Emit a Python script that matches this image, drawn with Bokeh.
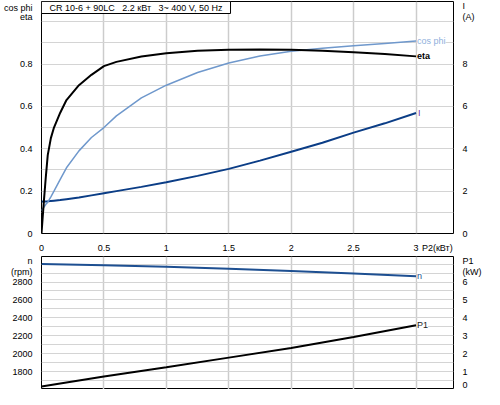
from bokeh.plotting import figure
from bokeh.models import Range1d, LinearAxis, FixedTicker, Label
from bokeh.layouts import column
from bokeh.embed import file_html
from bokeh.resources import INLINE

# ---------------- data ----------------
GAP = "\u00a0\u00a0\u00a0"
title_text = "CR 10-6 + 90LC" + GAP + "2.2 кВт" + GAP + "3~ 400 V, 50 Hz"

p2_top = [0, 0.01, 0.02, 0.035, 0.05, 0.075, 0.1, 0.15, 0.2, 0.3, 0.4, 0.5, 0.6, 0.8, 1.0,
          1.25, 1.5, 1.75, 2.0, 2.25, 2.5, 2.75, 3.0]
eta = [0, 0.08, 0.16, 0.27, 0.37, 0.45, 0.50, 0.57, 0.63, 0.70, 0.749, 0.79, 0.81, 0.835, 0.851,
       0.863, 0.867, 0.868, 0.867, 0.862, 0.855, 0.847, 0.836]
cos_phi = [0.108, 0.117, 0.125, 0.138, 0.148, 0.173, 0.20, 0.255, 0.31, 0.39, 0.453, 0.50, 0.555,
           0.64, 0.70, 0.76, 0.805, 0.838, 0.86, 0.874, 0.886, 0.897, 0.908]
current_a = [1.5, 1.505, 1.51, 1.515, 1.52, 1.535, 1.55, 1.58, 1.62, 1.7, 1.8, 1.9, 2.0, 2.2, 2.42,
             2.72, 3.05, 3.44, 3.86, 4.28, 4.76, 5.2, 5.69]

p2_bottom = [0, 0.5, 1, 1.5, 2, 2.5, 3]
speed_rpm = [3000, 2988, 2971, 2948, 2924, 2896, 2864]
p1_kw = [0.17, 0.72, 1.24, 1.78, 2.32, 2.93, 3.59]

x_ticks = [0, 0.5, 1, 1.5, 2, 2.5, 3]
x_labels = ["0", "0.5", "1", "1.5", "2", "2.5", "3"]
x_unit_label = "P2(кВт)"

left_top_ticks = [0, 0.2, 0.4, 0.6, 0.8]
left_top_labels = ["0", "0.2", "0.4", "0.6", "0.8"]
right_top_ticks = [0, 2, 4, 6, 8]
right_top_labels = ["0", "2", "4", "6", "8"]

left_bot_ticks = [1800, 2000, 2200, 2400, 2600, 2800]
left_bot_labels = ["1800", "2000", "2200", "2400", "2600", "2800"]
right_bot_ticks = [1, 2, 3, 4, 5, 6]
right_bot_labels = ["1", "2", "3", "4", "5", "6"]

# ---------------- styling ----------------
FONT = "Liberation Sans"
FS = "9px"
C_ETA = "#000000"
C_COS = "#6f98cc"
C_COS_LBL = "#8fb0dc"
C_I = "#0b3d86"
C_I_LBL = "#7030a0"
C_N = "#1d4f91"
C_P1 = "#000000"
GRID_H = "#d4d4d4"
GRID_V = "#cccccc"


def style_axis(ax, ticks, labels):
    ax.ticker = FixedTicker(ticks=ticks, minor_ticks=[])
    ax.major_label_overrides = {t: l for t, l in zip(ticks, labels)}
    ax.major_tick_line_color = None
    ax.minor_tick_line_color = None
    ax.axis_line_color = None
    ax.major_label_text_font = FONT
    ax.major_label_text_font_size = FS
    ax.major_label_text_color = "#000000"
    ax.major_label_standoff = 3


def style_fig(p):
    p.outline_line_color = "black"
    p.outline_line_width = 1
    p.background_fill_color = "white"
    p.border_fill_color = "white"
    p.xgrid.ticker = FixedTicker(ticks=x_ticks)
    p.xgrid.grid_line_color = GRID_V
    p.xgrid.grid_line_width = 1.5
    p.ygrid.grid_line_color = GRID_H
    p.ygrid.grid_line_width = 1


# ---------------- top chart ----------------
top = figure(width=484, height=255, x_range=Range1d(0, 3.3), y_range=Range1d(0, 1.095),
             output_backend="svg", toolbar_location=None,
             min_border_left=34, min_border_right=27, min_border_top=1, min_border_bottom=12)
style_fig(top)
top.ygrid.ticker = FixedTicker(ticks=[i / 10 for i in range(1, 11)])
top.extra_y_ranges = {"I": Range1d(0, 10.95)}

style_axis(top.xaxis[0], x_ticks + [3.17], x_labels + [x_unit_label])
style_axis(top.yaxis[0], left_top_ticks + [1.02, 1.065], left_top_labels + ["eta", "cos phi"])
ax_i = LinearAxis(y_range_name="I")
style_axis(ax_i, right_top_ticks + [10.23, 10.74], right_top_labels + ["(A)", "I"])
top.add_layout(ax_i, "right")

top.line(p2_top, current_a, y_range_name="I", line_color=C_I, line_width=2)
top.line(p2_top, cos_phi, line_color=C_COS, line_width=1.5)
top.line(p2_top, eta, line_color=C_ETA, line_width=2)

top.add_layout(Label(x=p2_top[-1], y=cos_phi[-1], text="cos phi", x_offset=1,
                     text_baseline="middle", text_color=C_COS_LBL, text_font=FONT,
                     text_font_size=FS, background_fill_color="white"))
top.add_layout(Label(x=p2_top[-1], y=eta[-1], text="eta", x_offset=1,
                     text_baseline="middle", text_color=C_ETA, text_font=FONT,
                     text_font_size=FS, text_font_style="bold", background_fill_color="white"))
top.add_layout(Label(x=p2_top[-1], y=current_a[-1], y_range_name="I", text="I", x_offset=2,
                     text_baseline="middle", text_color=C_I_LBL, text_font=FONT,
                     text_font_size=FS, background_fill_color="white"))
top.add_layout(Label(x=0, y=1.095, text=title_text, x_offset=0, y_offset=0,
                     text_baseline="top", text_align="left", text_color="black",
                     text_font=FONT, text_font_size="9px", background_fill_color="white",
                     border_line_color="black", border_line_width=1, padding=(8, 1)))

# ---------------- bottom chart ----------------
bot = figure(width=484, height=134, x_range=top.x_range, y_range=Range1d(1600, 3085),
             x_axis_location=None, output_backend="svg", toolbar_location=None,
             min_border_left=34, min_border_right=27, min_border_top=1, min_border_bottom=0)
style_fig(bot)
bot.ygrid.ticker = FixedTicker(ticks=[1600 + 100 * i for i in range(1, 15)])
bot.extra_y_ranges = {"P1": Range1d(0, 7.425)}

style_axis(bot.yaxis[0], left_bot_ticks + [2907, 3031], left_bot_labels + ["(rpm)", "n"])
ax_p1 = LinearAxis(y_range_name="P1")
style_axis(ax_p1, [0.25] + right_bot_ticks + [6.57, 7.16], ["0"] + right_bot_labels + ["(kW)", "P1"])
bot.add_layout(ax_p1, "right")

bot.line(p2_bottom, speed_rpm, line_color=C_N, line_width=2)
bot.line(p2_bottom, p1_kw, y_range_name="P1", line_color=C_P1, line_width=2)

bot.add_layout(Label(x=p2_bottom[-1], y=speed_rpm[-1], text="n", x_offset=1,
                     text_baseline="middle", text_color=C_N, text_font=FONT,
                     text_font_size=FS, background_fill_color="white"))
bot.add_layout(Label(x=p2_bottom[-1], y=p1_kw[-1], y_range_name="P1", text="P1", x_offset=1,
                     text_baseline="middle", text_color="#222222", text_font=FONT,
                     text_font_size=FS, background_fill_color="white"))

layout = column(top, bot, spacing=0)
open("out.html", "w").write(file_html(layout, INLINE))
